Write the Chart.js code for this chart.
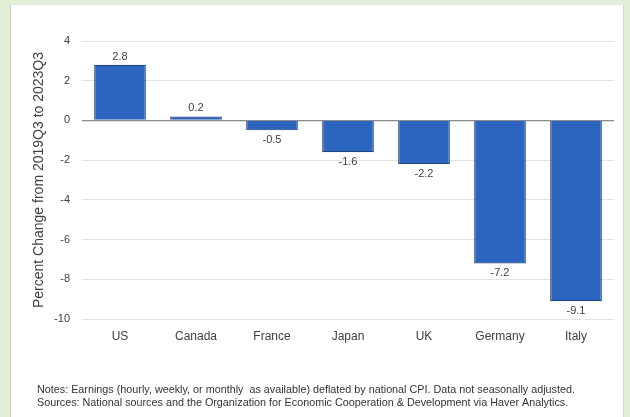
<!DOCTYPE html>
<html>
<head>
<meta charset="utf-8">
<script src="https://cdn.jsdelivr.net/npm/chart.js@4.4.0/dist/chart.umd.min.js"></script>
<style>
  html, body { margin: 0; padding: 0; }
  body { width: 630px; height: 417px; background: #e3eed9; position: relative; overflow: hidden; }
  #panel { position: absolute; left: 10px; top: 5px; width: 614px; height: 412px; background: #fff;
           border-left: 1px solid #c9cfc6; border-right: 1px solid #d4d9d1; box-sizing: border-box; }
  #wageChart { position: absolute; left: 0; top: 0; }
</style>
</head>
<body>
<div id="panel"></div>
<canvas id="wageChart" width="630" height="417"></canvas>
<script>
  // real wage growth by country
  const countries = ['US', 'Canada', 'France', 'Japan', 'UK', 'Germany', 'Italy'];
  const pctChange = [2.8, 0.2, -0.5, -1.6, -2.2, -7.2, -9.1];
  const yTicks = [4, 2, 0, -2, -4, -6, -8, -10];
  const notes = [
    'Notes: Earnings (hourly, weekly, or monthly  as available) deflated by national CPI. Data not seasonally adjusted.',
    'Sources: National sources and the Organization for Economic Cooperation & Development via Haver Analytics.'
  ];

  const font = '"Liberation Sans", Arial, sans-serif';

  // value labels above / below each bar
  const valueLabels = {
    id: 'valueLabels',
    afterDatasetsDraw(chart) {
      const ctx = chart.ctx;
      const meta = chart.getDatasetMeta(0);
      ctx.save();
      ctx.font = '11px ' + font;
      ctx.fillStyle = '#404040';
      ctx.textAlign = 'center';
      ctx.textBaseline = 'middle';
      meta.data.forEach((bar, i) => {
        const v = pctChange[i];
        const y = v >= 0 ? bar.y - 8 : bar.y + 10;
        ctx.fillText(v.toFixed(1), bar.x, y);
      });
      ctx.restore();
    }
  };

  // footnote lines under the chart, squeezed to a narrow face
  const footNotes = {
    id: 'footNotes',
    afterDraw(chart) {
      const ctx = chart.ctx;
      ctx.save();
      ctx.font = '10.5px ' + font;
      ctx.fillStyle = '#333';
      ctx.textBaseline = 'middle';
      const sx = 538 / ctx.measureText(notes[0]).width;
      notes.forEach((line, i) => {
        ctx.save();
        ctx.translate(37, 390 + i * 13);
        ctx.scale(sx, 1);
        ctx.fillText(line, 0, 0);
        ctx.restore();
      });
      ctx.restore();
    }
  };

  new Chart(document.getElementById('wageChart'), {
    type: 'bar',
    data: {
      labels: countries,
      datasets: [{
        data: pctChange,
        backgroundColor: '#2b65bf',
        borderColor: '#1f467f',
        borderWidth: 1.2,
        barPercentage: 0.68,
        categoryPercentage: 1
      }]
    },
    options: {
      responsive: false,
      animation: false,
      devicePixelRatio: 1,
      layout: { padding: { left: 0, right: 16, top: 41, bottom: 64 } },
      plugins: { legend: { display: false }, tooltip: { enabled: false } },
      scales: {
        x: {
          grid: { display: false, drawTicks: false },
          border: { display: false },
          ticks: { color: '#404040', font: { family: font, size: 12 }, padding: 10, maxRotation: 0 },
          afterFit(scale) { scale.height = 34; }
        },
        y: {
          min: -10,
          max: 4,
          afterBuildTicks(scale) { scale.ticks = yTicks.map(v => ({ value: v })); },
          grid: {
            drawTicks: false,
            color: ctx => ctx.tick && ctx.tick.value === 0 ? '#8c8c8c' : '#e4e4e4',
            lineWidth: ctx => ctx.tick && ctx.tick.value === 0 ? 1.3 : 1
          },
          border: { display: false },
          ticks: { color: '#404040', font: { family: font, size: 11 }, padding: 12 },
          title: {
            display: true,
            text: 'Percent Change from 2019Q3 to 2023Q3',
            color: '#404040',
            font: { family: font, size: 14 },
            padding: { top: 31, bottom: 0 }
          },
          afterFit(scale) { scale.width = 82; }
        }
      }
    },
    plugins: [valueLabels, footNotes]
  });
</script>
</body>
</html>
